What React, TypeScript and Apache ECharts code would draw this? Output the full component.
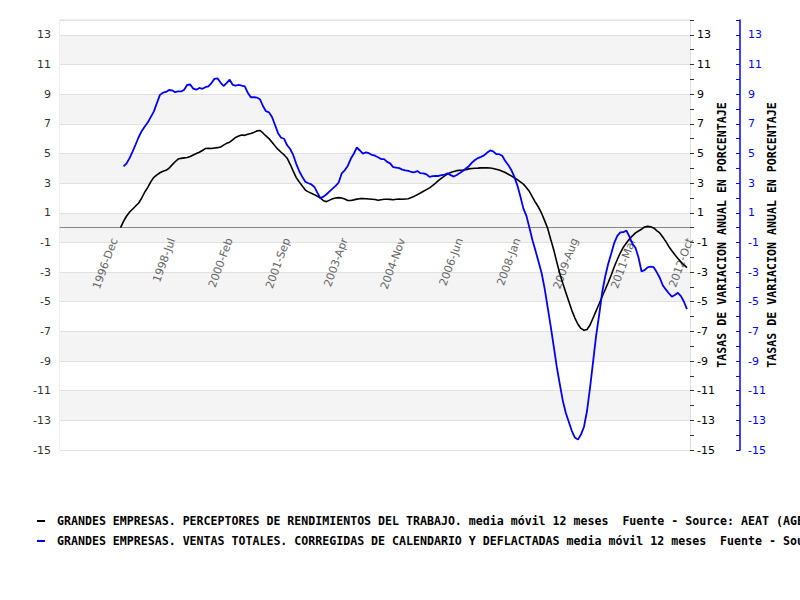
import React, { useEffect, useRef } from "react";
import * as echarts from "echarts";

const MONTH_NAMES = ["Jan", "Feb", "Mar", "Apr", "May", "Jun", "Jul", "Aug", "Sep", "Oct", "Nov", "Dec"];
const START_YEAR = 1995;
const START_MONTH = 5; // Jun
const MONTH_COUNT = 209; // 1995-Jun .. 2012-Oct

const TICK_LABELS = [
  "1996-Dec", "1998-Jul", "2000-Feb", "2001-Sep", "2003-Apr", "2004-Nov",
  "2006-Jun", "2008-Jan", "2009-Aug", "2011-Mar", "2012-Oct",
];

const BLACK_NAME =
  "GRANDES EMPRESAS. PERCEPTORES DE RENDIMIENTOS DEL TRABAJO. media móvil 12 meses  Fuente - Source: AEAT (AGENCIA TRIBUTARIA)";
const BLUE_NAME =
  "GRANDES EMPRESAS. VENTAS TOTALES. CORREGIDAS DE CALENDARIO Y DEFLACTADAS media móvil 12 meses  Fuente - Source: AEAT (AGENCIA TRIBUTARIA)";
const AXIS_NAME = "TASAS DE VARIACION ANUAL EN PORCENTAJE";

const BLACK_START = 20; // 1997-Feb
const BLACK_VALUES = [
  0.0, 0.43, 0.78, 1.05, 1.25, 1.46, 1.66, 2.0, 2.4, 2.71,
  3.1, 3.39, 3.56, 3.7, 3.8, 3.86, 4.0, 4.23, 4.44, 4.62,
  4.67, 4.7, 4.73, 4.8, 4.9, 4.99, 5.08, 5.2, 5.33, 5.35,
  5.33, 5.37, 5.39, 5.43, 5.56, 5.68, 5.76, 5.91, 6.08, 6.17,
  6.24, 6.22, 6.3, 6.35, 6.42, 6.52, 6.55, 6.38, 6.18, 6.0,
  5.76, 5.5, 5.27, 5.08, 4.9, 4.68, 4.27, 3.81, 3.37, 3.07,
  2.81, 2.53, 2.41, 2.31, 2.22, 2.11, 1.99, 1.81, 1.75, 1.85,
  1.95, 2.0, 2.02, 1.99, 1.93, 1.83, 1.83, 1.87, 1.92, 1.95,
  1.95, 1.94, 1.93, 1.91, 1.89, 1.84, 1.88, 1.91, 1.91, 1.9,
  1.88, 1.91, 1.93, 1.91, 1.93, 1.95, 2.03, 2.12, 2.22, 2.33,
  2.45, 2.56, 2.68, 2.83, 3.0, 3.18, 3.34, 3.49, 3.63, 3.71,
  3.78, 3.84, 3.87, 3.88, 3.91, 3.96, 3.98, 4.0, 4.01, 4.03,
  4.04, 4.03, 4.02, 3.98, 3.94, 3.89, 3.8, 3.71, 3.6, 3.49,
  3.36, 3.23, 3.08, 2.93, 2.69, 2.43, 2.06, 1.69, 1.37, 0.97,
  0.47, -0.04, -0.79, -1.49, -2.31, -3.1, -3.75, -4.37, -4.98, -5.6,
  -6.1, -6.52, -6.8, -6.92, -6.87, -6.57, -6.1, -5.62, -5.14, -4.65,
  -4.18, -3.7, -3.2, -2.64, -2.15, -1.7, -1.32, -1.04, -0.77, -0.56,
  -0.36, -0.23, -0.11, 0.04, 0.08, 0.06, -0.02, -0.21, -0.36, -0.63,
  -0.93, -1.27, -1.56, -1.83, -2.08, -2.31, -2.52, -2.7,
];

const BLUE_START = 21; // 1997-Mar
const BLUE_VALUES = [
  4.13, 4.33, 4.7, 5.14, 5.62, 6.11, 6.52, 6.82, 7.1, 7.47,
  7.84, 8.4, 8.95, 9.1, 9.15, 9.28, 9.26, 9.13, 9.18, 9.18,
  9.3, 9.63, 9.65, 9.37, 9.3, 9.42, 9.36, 9.47, 9.53, 9.75,
  10.03, 10.07, 9.78, 9.55, 9.74, 9.98, 9.63, 9.58, 9.62, 9.58,
  9.52, 9.1, 8.79, 8.79, 8.77, 8.66, 8.2, 7.85, 7.77, 7.46,
  6.92, 6.37, 6.06, 5.99, 5.55, 5.3, 4.9, 4.3, 3.8, 3.42,
  3.09, 2.99, 2.91, 2.74, 2.34, 1.99, 2.09, 2.25, 2.44, 2.63,
  2.81, 3.04, 3.65, 3.86, 4.16, 4.64, 4.98, 5.4, 5.2, 4.99,
  5.08, 5.02, 4.9, 4.85, 4.74, 4.62, 4.62, 4.43, 4.33, 4.08,
  4.05, 4.01, 3.91, 3.86, 3.82, 3.75, 3.73, 3.81, 3.67, 3.66,
  3.59, 3.42, 3.47, 3.49, 3.48, 3.53, 3.58, 3.65, 3.54, 3.44,
  3.55, 3.68, 3.82, 3.98, 4.14, 4.38, 4.56, 4.69, 4.77, 4.87,
  5.05, 5.2, 5.14, 4.96, 4.95, 4.84, 4.49, 4.22, 3.89, 3.42,
  2.85, 2.1, 1.28, 0.79, -0.03, -0.85, -1.57, -2.31, -3.06, -4.1,
  -5.36, -6.65, -7.99, -9.38, -10.54, -11.67, -12.51, -13.11, -13.72, -14.16,
  -14.3, -13.96, -13.43, -12.37, -10.8, -9.06, -7.3, -5.9, -4.38, -3.3,
  -2.44, -1.75, -1.03, -0.56, -0.32, -0.31, -0.2, -0.6, -1.1, -1.36,
  -2.02, -2.96, -2.87, -2.68, -2.64, -2.67, -3.0, -3.38, -3.89, -4.17,
  -4.43, -4.66, -4.55, -4.4, -4.62, -5.0, -5.5,
];

const Y_MIN = -15;
const Y_MAX = 14;

const GRID_TOP = 20;
const GRID_BOTTOM = 150;
const CHART_H = 600;

function buildCategories(): string[] {
  const out: string[] = [];
  for (let i = 0; i < MONTH_COUNT; i++) {
    const m = START_MONTH + i;
    const y = START_YEAR + Math.floor(m / 12);
    out.push(`${y}-${MONTH_NAMES[m % 12]}`);
  }
  return out;
}

function pad(start: number, values: number[]): (number | null)[] {
  const out: (number | null)[] = [];
  for (let i = 0; i < start; i++) out.push(null);
  return out.concat(values);
}

const MONO = "'DejaVu Sans Mono', monospace";
const SANS = "'DejaVu Sans', Verdana, sans-serif";

export default function App() {
  const ref = useRef<HTMLDivElement>(null);

  useEffect(() => {
    if (!ref.current) return;
    const chart = echarts.init(ref.current, undefined, { renderer: "svg" });
    const categories = buildCategories();
    const oddLabel = (v: number) => (Math.abs(Math.round(v)) % 2 === 1 ? String(Math.round(v)) : "");
    const plotH = CHART_H - GRID_TOP - GRID_BOTTOM;
    // move the category axis up to the value 0 of the y scale
    const zeroOffset = -((0 - Y_MIN) / (Y_MAX - Y_MIN)) * plotH;

    chart.setOption({
      animation: false,
      backgroundColor: "#ffffff",
      grid: {
        left: 60,
        right: 110,
        top: GRID_TOP,
        bottom: GRID_BOTTOM,
        show: true,
        borderColor: "#dddddd",
        borderWidth: 1,
        backgroundColor: "transparent",
      },
      legend: {
        orient: "vertical",
        left: 37,
        top: 514,
        padding: 0,
        itemWidth: 8,
        itemHeight: 2,
        itemGap: 6,
        icon: "rect",
        selectedMode: false,
        textStyle: {
          fontFamily: MONO,
          fontWeight: "bold",
          fontSize: 11.6,
          color: "#000000",
          lineHeight: 14,
          padding: [0, 0, 0, 7],
        },
        data: [BLACK_NAME, BLUE_NAME],
      },
      xAxis: {
        type: "category",
        data: categories,
        boundaryGap: false,
        position: "bottom",
        offset: zeroOffset,
        axisLine: { show: true, onZero: false, lineStyle: { color: "#888888", width: 1 } },
        axisTick: { show: false },
        splitLine: { show: false },
        axisLabel: {
          rotate: 70,
          margin: 11,
          color: "#666666",
          fontFamily: SANS,
          fontSize: 11,
          interval: (_idx: number, value: string) => TICK_LABELS.includes(value),
        },
      },
      yAxis: [
        {
          type: "value",
          position: "left",
          min: Y_MIN,
          max: Y_MAX,
          interval: 2,
          axisLine: { show: false },
          axisTick: { show: false },
          axisLabel: {
            color: "#333333",
            fontFamily: SANS,
            fontSize: 11,
            margin: 9,
            showMaxLabel: false,
            formatter: (v: number) => (v === Y_MAX ? "" : String(v)),
          },
          splitLine: { show: true, lineStyle: { color: "#e0e0e0", width: 1 } },
          splitArea: { show: true, areaStyle: { color: ["#ffffff", "#f4f4f4"] } },
        },
        {
          type: "value",
          position: "right",
          offset: 0,
          min: Y_MIN,
          max: Y_MAX,
          interval: 1,
          name: AXIS_NAME,
          nameLocation: "middle",
          nameRotate: 90,
          nameGap: 26,
          nameMoveOverlap: false,
          nameTextStyle: { fontFamily: MONO, fontWeight: "bold", fontSize: 11.6, color: "#000000" },
          axisLine: { show: true, lineStyle: { color: "#dddddd" } },
          axisTick: { show: true, length: 4, inside: false, lineStyle: { color: "#333333" } },
          axisLabel: {
            color: "#000000",
            fontFamily: SANS,
            fontSize: 11,
            margin: 7,
            formatter: oddLabel,
          },
          splitLine: { show: false },
        },
        {
          type: "value",
          position: "right",
          offset: 50,
          min: Y_MIN,
          max: Y_MAX,
          interval: 1,
          name: AXIS_NAME,
          nameLocation: "middle",
          nameRotate: 90,
          nameGap: 26,
          nameMoveOverlap: false,
          nameTextStyle: { fontFamily: MONO, fontWeight: "bold", fontSize: 11.6, color: "#000000" },
          axisLine: { show: true, lineStyle: { color: "#0000ff", width: 1.5 } },
          axisTick: { show: true, length: 4, inside: true, lineStyle: { color: "#0000ff" } },
          axisLabel: {
            color: "#0000ff",
            fontFamily: SANS,
            fontSize: 11,
            margin: 8,
            formatter: oddLabel,
          },
          splitLine: { show: false },
        },
      ],
      series: [
        {
          name: BLACK_NAME,
          type: "line",
          yAxisIndex: 1,
          data: pad(BLACK_START, BLACK_VALUES),
          showSymbol: false,
          symbol: "none",
          lineStyle: { color: "#000000", width: 1.6 },
          itemStyle: { color: "#000000" },
          connectNulls: false,
        },
        {
          name: BLUE_NAME,
          type: "line",
          yAxisIndex: 2,
          data: pad(BLUE_START, BLUE_VALUES),
          showSymbol: false,
          symbol: "none",
          lineStyle: { color: "#0000ff", width: 1.8 },
          itemStyle: { color: "#0000ff" },
          connectNulls: false,
        },
      ],
    });

    return () => chart.dispose();
  }, []);

  return (
    <div
      ref={ref}
      style={{ position: "absolute", left: 0, top: 0, width: 800, height: 600 }}
    />
  );
}
